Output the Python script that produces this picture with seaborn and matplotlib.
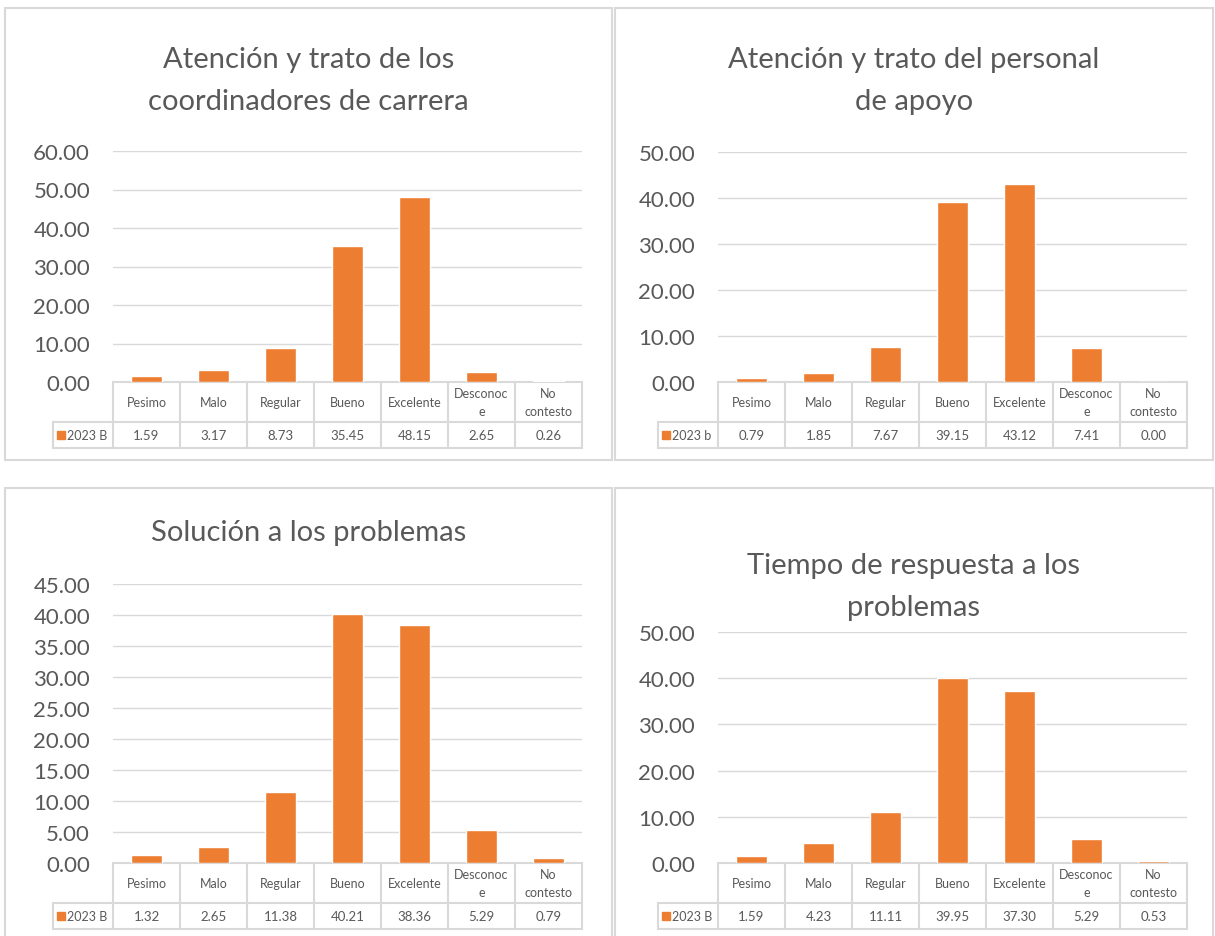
import matplotlib
matplotlib.use("Agg")
import matplotlib.pyplot as plt
import matplotlib.patches as mpatches
import seaborn as sns

categorias = ["Pesimo", "Malo", "Regular", "Bueno", "Excelente", "Desconoce", "No contesto"]
encabezados = ["Pesimo", "Malo", "Regular", "Bueno", "Excelente", "Desconoc\ne", "No\ncontesto"]

coordinadores = [1.59, 3.17, 8.73, 35.45, 48.15, 2.65, 0.26]
personal_apoyo = [0.79, 1.85, 7.67, 39.15, 43.12, 7.41, 0.00]
solucion = [1.32, 2.65, 11.38, 40.21, 38.36, 5.29, 0.79]
tiempo_respuesta = [1.59, 4.23, 11.11, 39.95, 37.30, 5.29, 0.53]

series = ["2023 B", "2023 b", "2023 B", "2023 B"]
titulos = [
    "Atención y trato de los\ncoordinadores de carrera",
    "Atención y trato del personal\nde apoyo",
    "Solución a los problemas",
    "Tiempo de respuesta a los\nproblemas",
]
ymax = [60, 50, 45, 50]
ypaso = [10, 10, 5, 10]

NARANJA = "#ED7D31"
GRIS_TXT = "#595959"
GRIS_LIN = "#D9D9D9"

sns.set_theme(style="white")
plt.rcParams["font.family"] = ["Lato", "DejaVu Sans"]

W, H = 1215, 937
fig = plt.figure(figsize=(W / 100, H / 100), dpi=100)

# panel layout in pixels: border box, plot area (left, right, top, bottom), title centre y
paneles = [
    dict(borde=(5, 9, 612, 461), area=(113, 582, 152, 383), ty=81),
    dict(borde=(615, 9, 1213, 461), area=(718, 1187, 153, 383), ty=81),
    dict(borde=(5, 489, 612, 940), area=(113, 582, 585, 864), ty=533),
    dict(borde=(615, 489, 1213, 940), area=(718, 1187, 633, 864), ty=587),
]
datos = [coordinadores, personal_apoyo, solucion, tiempo_respuesta]

for i, p in enumerate(paneles):
    bx0, by0, bx1, by1 = p["borde"]
    fig.patches.append(mpatches.Rectangle((bx0 / W, 1 - by1 / H), (bx1 - bx0) / W, (by1 - by0) / H,
                                          transform=fig.transFigure, fill=False,
                                          edgecolor=GRIS_LIN, lw=1.5))
    cx = (bx0 + bx1) / 2
    fig.text(cx / W, 1 - p["ty"] / H, titulos[i], ha="center", va="center",
             fontsize=21, color=GRIS_TXT, linespacing=1.72)

    l, r, t, b = p["area"]
    ax = fig.add_axes([l / W, 1 - b / H, (r - l) / W, (b - t) / H])
    sns.barplot(x=categorias, y=datos[i], ax=ax, color=NARANJA, saturation=1, width=0.45, zorder=3)
    ax.set_xlim(-0.5, 6.5)
    ax.set_ylim(0, ymax[i])
    ax.set_yticks(range(0, ymax[i] + 1, ypaso[i]))
    ax.set_yticklabels([f"{v:.2f}" for v in range(0, ymax[i] + 1, ypaso[i])])
    ax.tick_params(axis="y", length=0, labelsize=16, labelcolor=GRIS_TXT, pad=16.5)
    ax.set_xticks([])
    ax.set_xlabel("")
    ax.set_ylabel("")
    for s in ax.spines.values():
        s.set_visible(False)
    ax.grid(axis="y", color=GRIS_LIN, lw=1, zorder=0)
    ax.set_axisbelow(True)

    # data table under the axis
    hpx = b - t
    f1 = -40 / hpx
    f2 = -66 / hpx
    x0 = -1.4
    tr = ax.get_xaxis_transform()
    kw = dict(color=GRIS_LIN, lw=1.5, transform=tr, clip_on=False)
    ax.plot([-0.5, 6.5], [0, 0], **kw)
    ax.plot([x0, 6.5], [f1, f1], **kw)
    ax.plot([x0, 6.5], [f2, f2], **kw)
    ax.plot([x0, x0], [f1, f2], **kw)
    for k in range(8):
        ax.plot([k - 0.5, k - 0.5], [0, f2], **kw)
    for k, lab in enumerate(encabezados):
        ax.text(k, f1 / 2, lab, transform=tr, ha="center", va="center",
                fontsize=9, color=GRIS_TXT, linespacing=1.6)
        ax.text(k, (f1 + f2) / 2, f"{datos[i][k]:.2f}", transform=tr, ha="center", va="center",
                fontsize=9.5, color=GRIS_TXT)
    ax.plot([-1.28], [(f1 + f2) / 2], marker="s", ms=6, color=NARANJA, ls="none",
            transform=tr, clip_on=False)
    ax.text(-1.18, (f1 + f2) / 2, series[i], transform=tr, ha="left", va="center",
            fontsize=9, color=GRIS_TXT)

fig.savefig("out.png", dpi=100, facecolor="white")
